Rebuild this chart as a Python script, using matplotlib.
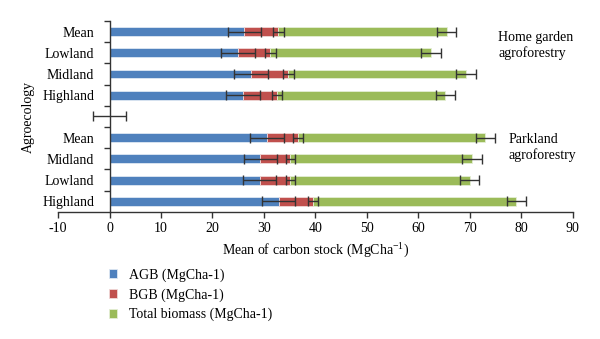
import matplotlib
matplotlib.use("Agg")
import matplotlib.pyplot as plt
import numpy as np

plt.rcParams['font.family'] = ['Liberation Serif', 'DejaVu Serif']
plt.rcParams['axes.unicode_minus'] = False

# rows listed bottom to top, blank row separates the two systems
rows = ["Highland", "Lowland", "Midland", "Mean", "",
        "Highland", "Midland", "Lowland", "Mean"]

agb = [32.9, 29.2, 29.3, 30.6, 0.0, 26.0, 27.5, 24.9, 26.2]
agb_err = [3.2, 3.2, 3.2, 3.3, 3.3, 3.3, 3.25, 3.3, 3.2]
bgb = [6.6, 5.9, 5.8, 6.0, np.nan, 6.6, 7.2, 6.3, 6.6]
bgb_err = [0.95, 0.9, 0.9, 0.9, np.nan, 1.0, 1.05, 1.05, 1.0]
total = [39.5, 34.9, 35.3, 36.4, np.nan, 32.6, 34.6, 31.3, 32.7]
total_err = [1.85, 1.85, 1.9, 1.9, np.nan, 1.85, 1.95, 1.9, 1.8]

series_names = ["AGB (MgCha-1)", "BGB (MgCha-1)", "Total biomass (MgCha-1)"]
colors = ["#4f81bd", "#c0504d", "#9bbb59"]

fig = plt.figure(figsize=(6, 3.39), dpi=100)
ax = fig.add_axes([0.0967, 0.375, 0.858, 0.563])

y = np.arange(len(rows))
agb = np.array(agb)
bgb = np.array(bgb)
total = np.array(total)
err_kw = dict(ecolor="#333333", elinewidth=1.0, capsize=3.5, capthick=1.0)

h = 0.42
b1 = ax.barh(y, agb, height=h, color=colors[0], xerr=agb_err,
             edgecolor="#dfe8f3", linewidth=0.6, error_kw=err_kw, label=series_names[0])
b2 = ax.barh(y, bgb, left=agb, height=h, color=colors[1], xerr=bgb_err,
             edgecolor="#f0d9d8", linewidth=0.6, error_kw=err_kw, label=series_names[1])
b3 = ax.barh(y, total, left=agb + bgb, height=h, color=colors[2], xerr=total_err,
             edgecolor="#e4eed6", linewidth=0.6, error_kw=err_kw, label=series_names[2])

ax.set_xlim(-10, 90)
ax.set_ylim(-0.5, len(rows) - 0.5)
ax.set_xticks(np.arange(-10, 91, 10))
ax.set_yticks(y)
ax.set_yticklabels(rows)
ax.set_yticks(np.arange(0.5, len(rows), 1), minor=True)
ax.tick_params(axis="y", which="major", length=0, pad=11, labelsize=10)
ax.tick_params(axis="y", which="minor", length=4, width=1, color="#333333")
ax.tick_params(axis="x", length=4, width=1, color="#333333", labelsize=10, pad=3)

ax.spines["left"].set_position(("data", 0))
for s in ["left", "bottom"]:
    ax.spines[s].set_color("#333333")
    ax.spines[s].set_linewidth(1.0)
ax.spines["top"].set_visible(False)
ax.spines["right"].set_visible(False)

ax.set_xlabel("Mean of carbon stock (MgCha$^{\\mathregular{-1}}$)", fontsize=10, labelpad=4)
ax.set_ylabel("Agroecology", fontsize=10)
ax.yaxis.set_label_coords(-0.045, 0.5)

ax.text(75.5, 7.35, "Home garden\nagroforestry", fontsize=10, va="center", ha="left",
        linespacing=1.2)
ax.text(77.5, 2.55, "Parkland\nagroforestry", fontsize=10, va="center", ha="left",
        linespacing=1.2)

fig.legend(handles=[b1, b2, b3], labels=series_names, loc="upper left",
           bbox_to_anchor=(0.16, 0.245), frameon=False, fontsize=10,
           handlelength=0.6, handleheight=0.6, handletextpad=0.9, labelspacing=0.45)

fig.savefig("out.png", dpi=100)
